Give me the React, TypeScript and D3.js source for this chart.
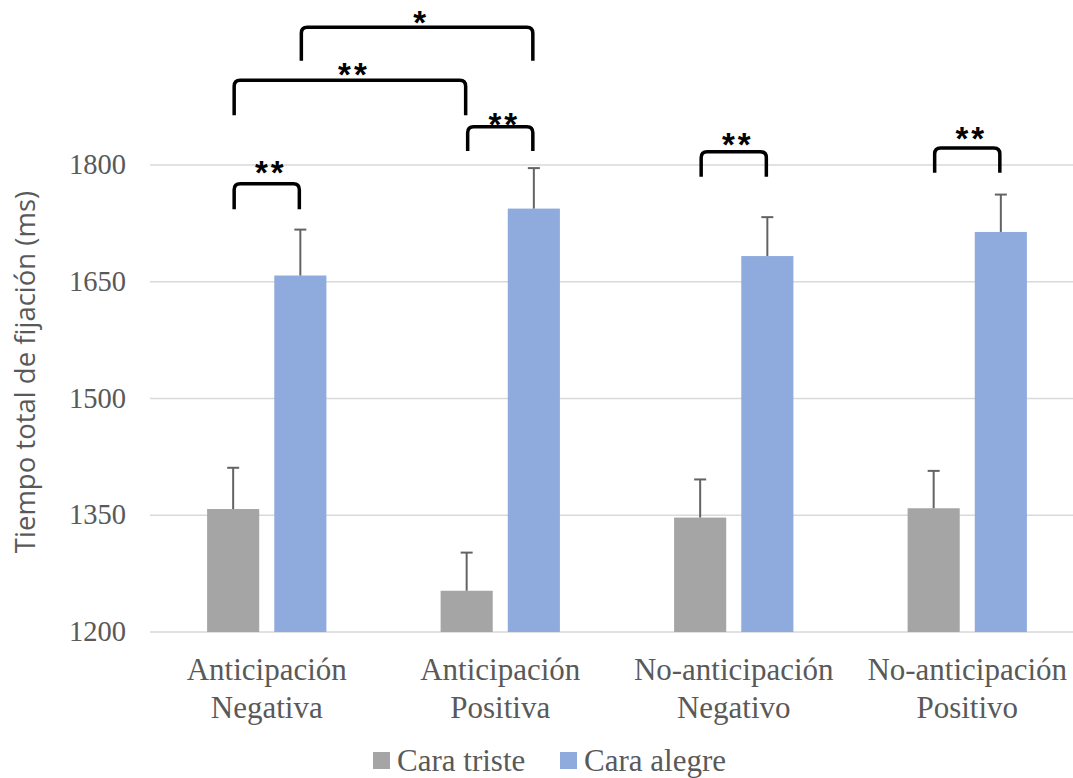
import React from "react";
import * as d3 from "d3";

const categories = [
  ["Anticipación", "Negativa"],
  ["Anticipación", "Positiva"],
  ["No-anticipación", "Negativo"],
  ["No-anticipación", "Positivo"],
];
const seriesNames = ["Cara triste", "Cara alegre"];
const sadValues = [1358, 1253, 1347, 1359];
const sadErrors = [53, 49, 49, 48];
const happyValues = [1658, 1744, 1683, 1714];
const happyErrors = [59, 52, 50, 48];
const yTicks = [1200, 1350, 1500, 1650, 1800];

// significance brackets: [group, series] -> [group, series], levels in ms
const brackets = [
  { from: [0, 0], to: [0, 1], top: 1776, leg: 1743, mark: "**", markAt: 1799 },
  { from: [1, 0], to: [1, 1], top: 1849, leg: 1818, mark: "**", markAt: 1861 },
  { from: [0, 0], to: [1, 0], top: 1909, leg: 1864, mark: "**", markAt: 1925 },
  { from: [0, 1], to: [1, 1], top: 1977, leg: 1934, mark: "*", markAt: 1991 },
  { from: [2, 0], to: [2, 1], top: 1817, leg: 1785, mark: "**", markAt: 1835 },
  { from: [3, 0], to: [3, 1], top: 1822, leg: 1790, mark: "**", markAt: 1842 },
];

const W = 1073;
const H = 778;
const colors = ["#A5A5A5", "#8FAADC"];
const textGray = "#595959";

export default function App() {
  const x = d3
    .scaleBand<number>()
    .domain(d3.range(categories.length))
    .range([150, 1084])
    .padding(0);
  const xs = d3
    .scaleBand<number>()
    .domain([0, 1])
    .range([0, x.bandwidth()])
    .paddingInner(0.224)
    .paddingOuter(0.85);
  const y = d3.scaleLinear().domain([1200, 1800]).range([632, 165]);

  const series = [
    { vals: sadValues, errs: sadErrors },
    { vals: happyValues, errs: happyErrors },
  ];
  const cx = (g: number, s: number) => (x(g) as number) + (xs(s) as number) + xs.bandwidth() / 2;

  const bracketPath = (b: (typeof brackets)[number]) => {
    const x1 = cx(b.from[0], b.from[1]) + 1;
    const x2 = cx(b.to[0], b.to[1]) - 1;
    const t = y(b.top);
    const l = y(b.leg);
    const r = 6;
    return `M${x1},${l} L${x1},${t + r} Q${x1},${t} ${x1 + r},${t} L${x2 - r},${t} Q${x2},${t} ${x2},${t + r} L${x2},${l}`;
  };

  return (
    <svg
      width={W}
      height={H}
      style={{ position: "absolute", left: 0, top: 0, background: "#fff" }}
    >
      {/* grid */}
      {yTicks.map((t) => (
        <line key={t} x1={150} x2={W} y1={y(t)} y2={y(t)} stroke="#D9D9D9" strokeWidth={1.6} />
      ))}
      {yTicks.map((t) => (
        <text
          key={"l" + t}
          x={126}
          y={y(t) + 9}
          textAnchor="end"
          fontFamily="Liberation Serif"
          fontSize={28.5}
          fill={textGray}
        >
          {t}
        </text>
      ))}
      <text
        transform={`translate(35,372) rotate(-90)`}
        textAnchor="middle"
        fontFamily="Open Sans"
        fontSize={27.5}
        fill={textGray}
      >
        Tiempo total de fijación (ms)
      </text>

      {/* bars */}
      {series.map((s, si) =>
        s.vals.map((v, gi) => {
          const bx = (x(gi) as number) + (xs(si) as number);
          return (
            <g key={`${si}-${gi}`}>
              <rect x={bx} y={y(v)} width={xs.bandwidth()} height={y(1200) - y(v)} fill={colors[si]} />
              <line
                x1={cx(gi, si)}
                x2={cx(gi, si)}
                y1={y(v)}
                y2={y(v + s.errs[gi])}
                stroke="#636363"
                strokeWidth={2}
              />
              <line
                x1={cx(gi, si) - 6}
                x2={cx(gi, si) + 6}
                y1={y(v + s.errs[gi])}
                y2={y(v + s.errs[gi])}
                stroke="#636363"
                strokeWidth={2}
              />
            </g>
          );
        })
      )}

      {/* category labels */}
      {categories.map((c, gi) => (
        <text
          key={"c" + gi}
          x={(x(gi) as number) + x.bandwidth() / 2}
          textAnchor="middle"
          fontFamily="Liberation Serif"
          fontSize={31}
          fill={textGray}
        >
          <tspan x={(x(gi) as number) + x.bandwidth() / 2} y={680}>
            {c[0]}
          </tspan>
          <tspan x={(x(gi) as number) + x.bandwidth() / 2} y={718}>
            {c[1]}
          </tspan>
        </text>
      ))}

      {/* brackets */}
      {brackets.map((b, i) => {
        const mx = (cx(b.from[0], b.from[1]) + cx(b.to[0], b.to[1])) / 2 + 4;
        return (
          <g key={"b" + i}>
            <path d={bracketPath(b)} fill="none" stroke="#000" strokeWidth={3.5} />
            <text
              x={mx}
              y={y(b.markAt) + 18}
              textAnchor="middle"
              fontFamily="Liberation Sans"
              fontWeight="bold"
              fontSize={33}
              letterSpacing={3}
              fill="#000"
            >
              {b.mark}
            </text>
          </g>
        );
      })}

      {/* legend */}
      {seriesNames.map((n, i) => {
        const lx = [373, 560][i];
        return (
          <g key={"lg" + i}>
            <rect x={lx} y={752} width={17} height={17} fill={colors[i]} />
            <text x={lx + 24} y={771} fontFamily="Liberation Serif" fontSize={31} fill={textGray}>
              {n}
            </text>
          </g>
        );
      })}
    </svg>
  );
}
